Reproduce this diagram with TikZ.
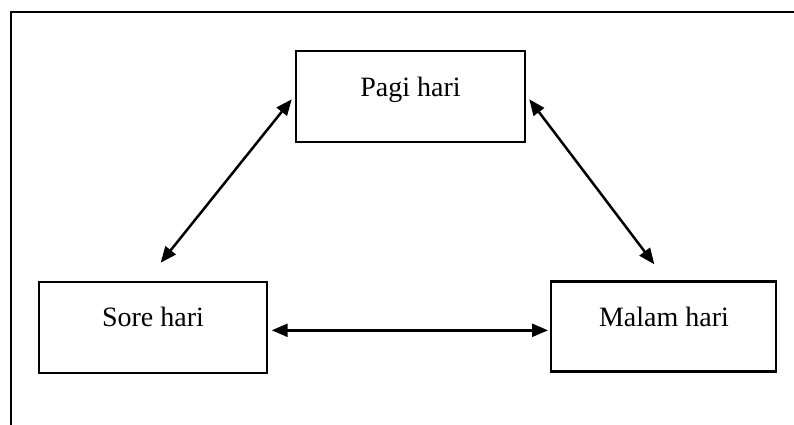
\documentclass[tikz,border=0pt]{standalone}
\usepackage{fontspec}
\setmainfont{Liberation Serif}
\usetikzlibrary{arrows.meta}
\begin{document}
\begin{tikzpicture}[x=1pt,y=-1pt,
  box/.style={draw,line width=2.9pt,rectangle,inner sep=0pt,minimum width=#1},
  lbl/.style={anchor=base,inner sep=0pt,font=\fontsize{28}{34}\selectfont},
  link/.style={line width=2.5pt,{Triangle[length=16pt,width=13pt]}-{Triangle[length=16pt,width=13pt]}}]
\useasboundingbox (0,0) rectangle (794,424);
\clip (0,0) rectangle (794,424);
\draw[line width=2.7pt] (11,440) -- (11,12) -- (810,12);
\node[box=229pt,minimum height=91pt] (pagi) at (410.5,96.5) {};
\node[box=228pt,minimum height=91pt] (sore) at (153,327.5) {};
\node[box=225pt,minimum height=90pt] (malam) at (663.5,326.5) {};
\node[lbl] (tpagi) at (410.5,96.7) {Pagi hari};
\node[lbl] (tsore) at (153,326.7) {Sore hari};
\node[lbl] (tmalam) at (664,326.7) {Malam hari};
\coordinate (a1) at (160.7,262.7);
\coordinate (a2) at (291.7,99.3);
\coordinate (b1) at (529.3,99.3);
\coordinate (b2) at (654.3,264.3);
\coordinate (c1) at (271.7,330.3);
\coordinate (c2) at (548,330.3);
\draw[link] (a1) -- (a2);
\draw[link] (b1) -- (b2);
\draw[link] (c1) -- (c2);
\end{tikzpicture}
\end{document}
